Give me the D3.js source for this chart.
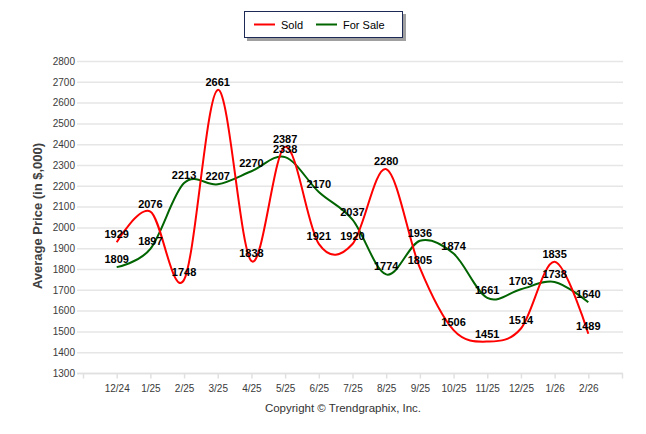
<!DOCTYPE html>
<html>
<head>
<meta charset="utf-8">
<script src="https://cdn.jsdelivr.net/npm/d3@7"></script>
<style>
  body { margin: 0; background: #fff; }
  text { font-family: "Liberation Sans", Arial, sans-serif; }
</style>
</head>
<body>
<div id="chart"></div>
<script>
// months on the x axis
var months = ["12/24", "1/25", "2/25", "3/25", "4/25", "5/25", "6/25", "7/25",
  "8/25", "9/25", "10/25", "11/25", "12/25", "1/26", "2/26"];

// average prices (in $,000)
var sold = [1929, 2076, 1748, 2661, 1838, 2387, 1921, 1920, 2280, 1805, 1506, 1451, 1514, 1835, 1489];
var forSale = [1809, 1897, 2213, 2207, 2270, 2338, 2170, 2037, 1774, 1936, 1874, 1661, 1703, 1738, 1640];

var yTicks = d3.range(1300, 2801, 100);

var svgWidth = 646;
var svgHeight = 434;

var svg = d3.select("#chart")
  .append("svg")
  .attr("width", svgWidth)
  .attr("height", svgHeight);

// scales - categories sit at 0..14, axis runs -1..15
var xScale = d3.scaleLinear()
  .domain([-1, 15])
  .range([83, 622]);

var yScale = d3.scaleLinear()
  .domain([1300, 2800])
  .range([373, 61]);

// grid lines
svg.append("g")
  .selectAll("line")
  .data(yTicks)
  .enter()
  .append("line")
  .attr("x1", 77)
  .attr("x2", 623)
  .attr("y1", d => yScale(d) + 0.5)
  .attr("y2", d => yScale(d) + 0.5)
  .attr("stroke", "#e6e6e6")
  .attr("stroke-width", 1.5);

// y axis labels
var yAxis = d3.axisLeft(yScale)
  .tickValues(yTicks)
  .tickFormat(d3.format("d"))
  .tickSize(0)
  .tickPadding(0);

var yG = svg.append("g")
  .attr("transform", "translate(75,0)")
  .call(yAxis);
yG.select(".domain").remove();
yG.selectAll("text")
  .attr("font-family", "Liberation Sans, Arial, sans-serif")
  .attr("font-size", "10px")
  .attr("fill", "#3a3a3a");

// x axis
var xAxis = d3.axisBottom(xScale)
  .tickValues(d3.range(-1, 16))
  .tickSize(5)
  .tickPadding(6)
  .tickFormat(d => months[d] || "");

var xG = svg.append("g")
  .attr("transform", `translate(0, ${yScale(1300) + 0.5})`)
  .call(xAxis);
xG.select(".domain").attr("stroke", "#e0e0e0").attr("stroke-width", 1.5)
  .attr("d", "M77,0H623");
xG.selectAll(".tick line").attr("stroke", "#e0e0e0").attr("stroke-width", 1.5);
xG.selectAll("text")
  .attr("font-family", "Liberation Sans, Arial, sans-serif")
  .attr("font-size", "10px")
  .attr("fill", "#3a3a3a");

// lines
var line = d3.line()
  .x((d, i) => xScale(i))
  .y(d => yScale(d))
  .curve(d3.curveCardinal.tension(0));

svg.append("path")
  .datum(forSale)
  .attr("d", line)
  .attr("fill", "none")
  .attr("stroke", "#006400")
  .attr("stroke-width", 2);

svg.append("path")
  .datum(sold)
  .attr("d", line)
  .attr("fill", "none")
  .attr("stroke", "#ff0000")
  .attr("stroke-width", 2);

// value labels
function addLabels(values) {
  svg.append("g")
    .selectAll("text")
    .data(values)
    .enter()
    .append("text")
    .attr("x", (d, i) => xScale(i))
    .attr("y", d => yScale(d) - 4)
    .attr("text-anchor", "middle")
    .attr("font-size", "11px")
    .attr("font-weight", "bold")
    .attr("fill", "#000")
    .text(d => d);
}
addLabels(sold);
addLabels(forSale);

// y axis title
svg.append("text")
  .attr("transform", "translate(42, 216) rotate(-90)")
  .attr("text-anchor", "middle")
  .attr("font-size", "13px")
  .attr("font-weight", "bold")
  .attr("fill", "#404040")
  .text("Average Price (in $,000)");

// copyright
svg.append("text")
  .attr("x", 343)
  .attr("y", 412)
  .attr("text-anchor", "middle")
  .attr("font-size", "11.5px")
  .attr("fill", "#333")
  .text("Copyright \u00A9 Trendgraphix, Inc.");

// legend
var legend = svg.append("g");
legend.append("rect")
  .attr("x", 247).attr("y", 14)
  .attr("width", 159).attr("height", 27)
  .attr("fill", "#a0a0a0");
legend.append("rect")
  .attr("x", 244.5).attr("y", 11.5)
  .attr("width", 158).attr("height", 26)
  .attr("fill", "#fff")
  .attr("stroke", "#1c2a55")
  .attr("stroke-width", 1);

var legendItems = [
  { name: "Sold", color: "#ff0000", x: 254 },
  { name: "For Sale", color: "#006400", x: 316 }
];
legendItems.forEach(function(item) {
  legend.append("line")
    .attr("x1", item.x).attr("x2", item.x + 21)
    .attr("y1", 24.5).attr("y2", 24.5)
    .attr("stroke", item.color)
    .attr("stroke-width", 2);
  legend.append("text")
    .attr("x", item.x + 27)
    .attr("y", 28.5)
    .attr("font-size", "11px")
    .attr("fill", "#000")
    .text(item.name);
});
</script>
</body>
</html>
